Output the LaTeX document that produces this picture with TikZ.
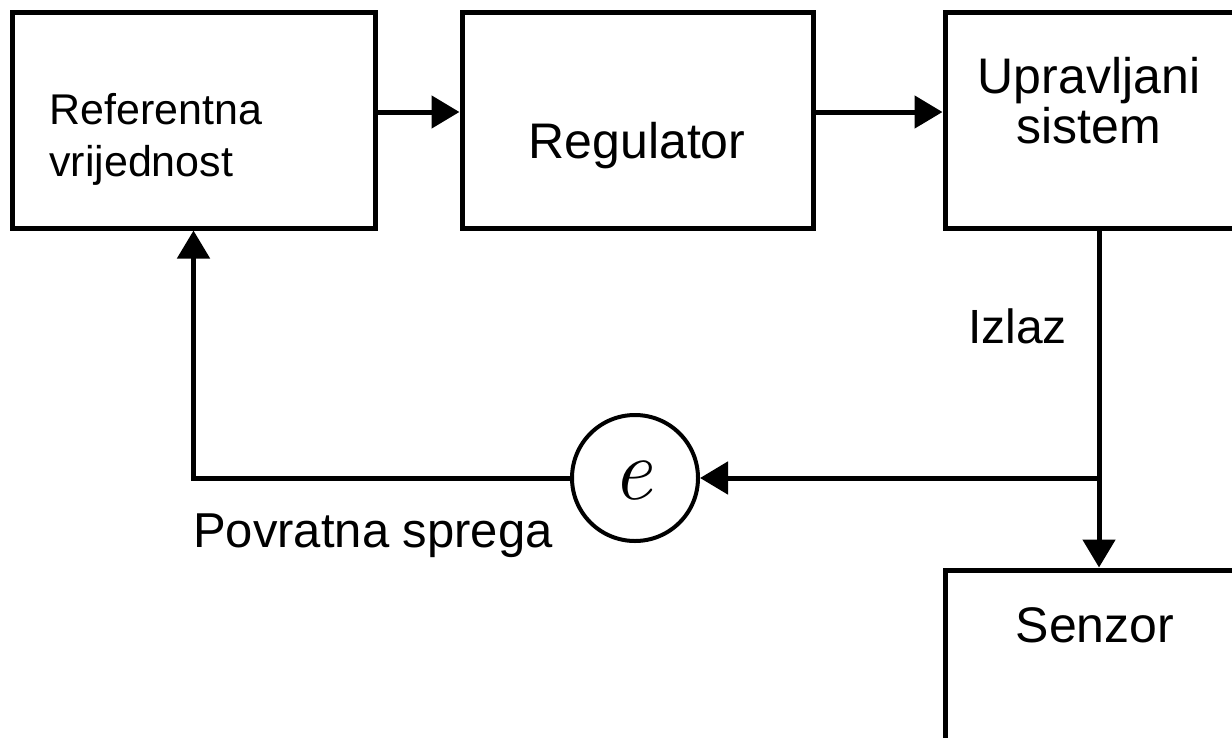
\documentclass[tikz,border=0pt]{standalone}
\usepackage{fontspec}
\setmainfont{Liberation Sans}
\newfontfamily\lmfont{Latin Modern Roman}
\usetikzlibrary{arrows.meta,positioning}
\tikzset{
  blk/.style={draw=black, line width=5pt, fill=white, inner sep=0pt},
  arr/.style={line width=5pt, -{Triangle[length=28pt,width=32pt]}},
  lbl/.style={inner sep=0pt, font=\fontsize{50}{60}\selectfont},
  smalllbl/.style={inner sep=0pt, font=\fontsize{43}{50}\selectfont},
}
\begin{document}
\begin{tikzpicture}[x=1pt,y=-1pt]
\path[use as bounding box, clip] (0,0) rectangle (1232,737);
\fill[white] (0,0) rectangle (1232,737);

% boxes
\node[blk, minimum width=363pt, minimum height=216pt] (A) at (193.5,120) {};
\node[blk, minimum width=351pt, minimum height=216pt] (B) at (637.5,120) {};
\node[blk, minimum width=308pt, minimum height=216pt] (C) at (1099,120) {};
\node[blk, minimum width=308pt, minimum height=216pt] (S) at (1099,678) {};
\node[draw=black, line width=4pt, circle, minimum size=126pt, inner sep=0pt, fill=white] (E) at (635,478) {};

% texts in boxes
\node[smalllbl, anchor=base west] (ref1) at (49,124) {Referentna};
\node[smalllbl, anchor=base west] (ref2) at (49,176) {vrijednost};
\node[lbl, anchor=base] (reg) at (637,158) {Regulator};
\node[lbl, anchor=base] (up1) at (1089,93) {Upravljani};
\node[lbl, anchor=base] (up2) at (1089,143) {sistem};
\node[lbl, anchor=base] (sen) at (1095,642) {Senzor};
\node[inner sep=0pt, anchor=base, font=\lmfont\itshape\fontsize{88}{96}\selectfont] (etext) at (632,499) {e};

% labels
\node[lbl, anchor=base west, font=\fontsize{48}{58}\selectfont] (izlaz) at (968,343) {Izlaz};
\node[lbl, anchor=base west, font=\fontsize{49}{58}\selectfont] (povr) at (193,547) {Povratna sprega};

% connectors
\coordinate (J) at (C.south |- E.east);
\draw[arr] ([yshift=8pt]A.east) -- ([yshift=8pt]B.west);
\draw[arr] ([yshift=8pt]B.east) -- ([yshift=8pt]C.west);
\draw[arr] (C.south) -- (S.north);
\draw[arr] (J) -- (E.east);
\draw[arr] (E.west) -- (A.south |- E.west) -- (A.south);
\end{tikzpicture}
\end{document}
